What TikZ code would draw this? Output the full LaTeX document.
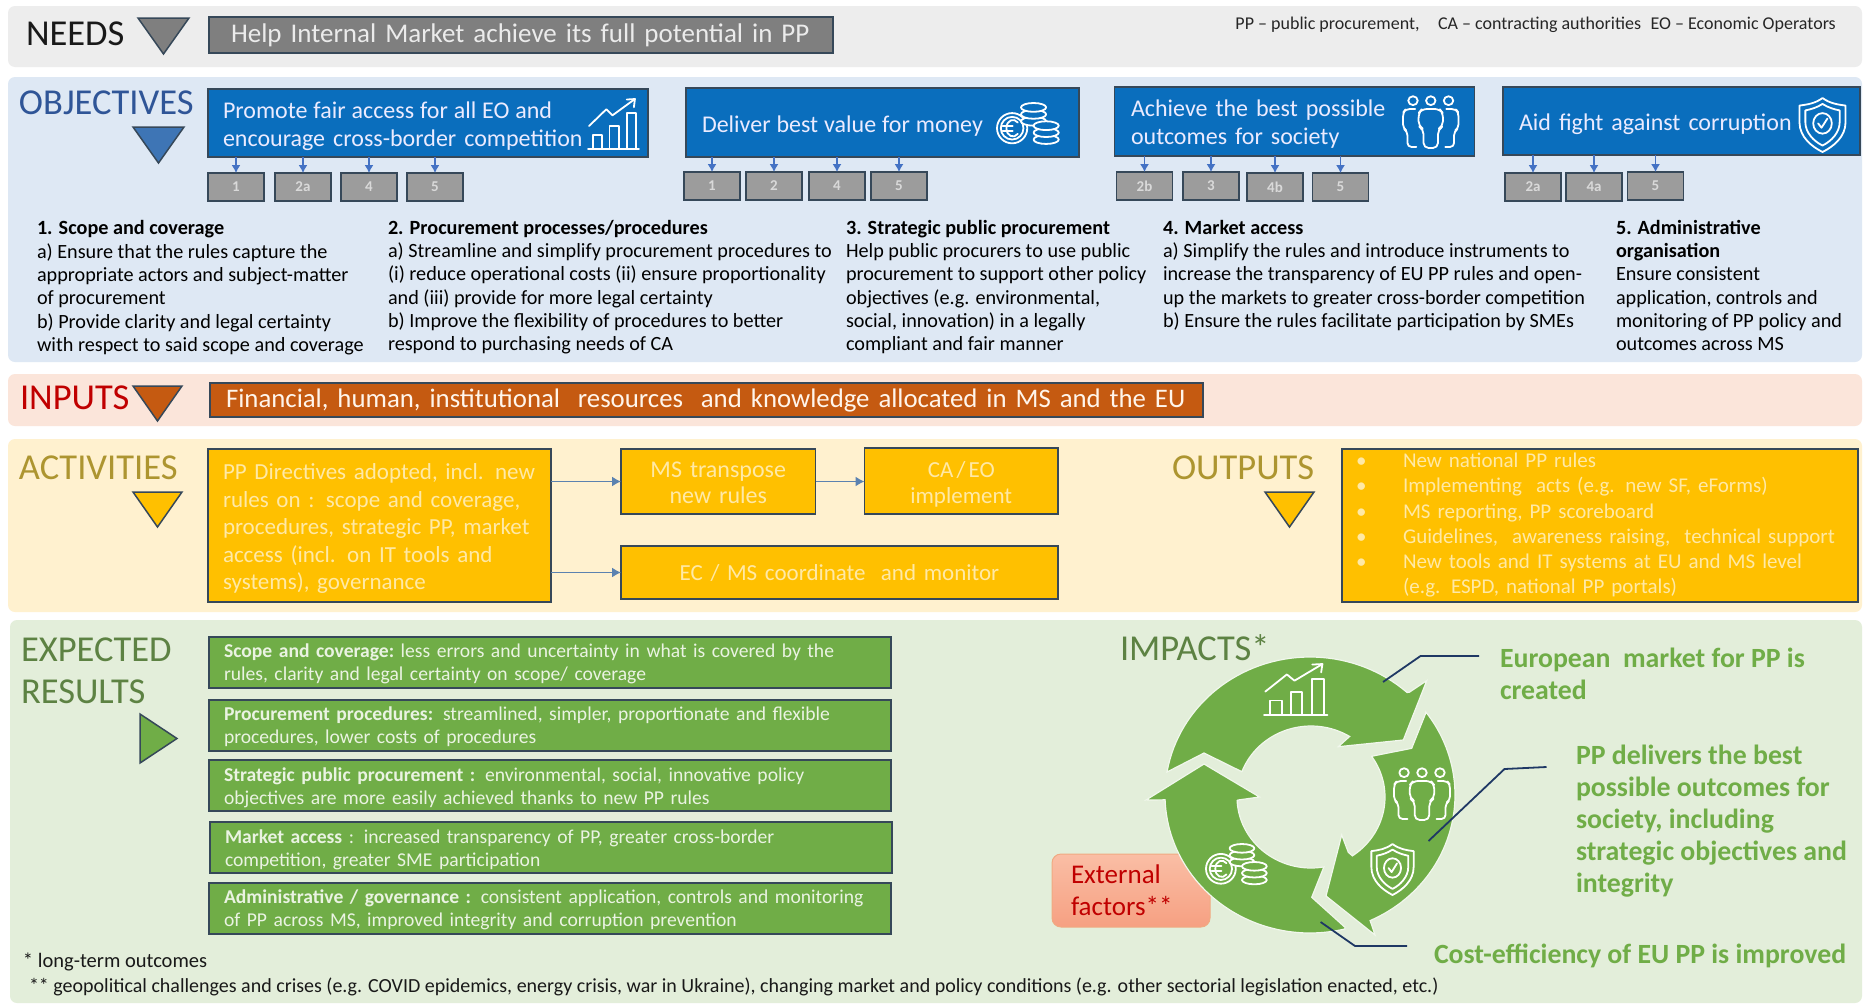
\documentclass[tikz,border=0pt]{standalone}
\usepackage{fontspec}
\setmainfont{Carlito}
\usetikzlibrary{arrows.meta}
\definecolor{bandneeds}{HTML}{EDEDED}
\definecolor{bandobj}{HTML}{DEE8F4}
\definecolor{bandinp}{HTML}{FBE5DA}
\definecolor{bandact}{HTML}{FFF1CF}
\definecolor{bandres}{HTML}{E3EEDA}
\definecolor{edge}{HTML}{364859}
\definecolor{bluefill}{HTML}{0A6EBD}
\definecolor{grayfill}{HTML}{7F7F7F}
\definecolor{smallfill}{HTML}{9C9C9C}
\definecolor{orangefill}{HTML}{C55A11}
\definecolor{yellowfill}{HTML}{FFC000}
\definecolor{greenfill}{HTML}{70AD47}
\definecolor{yellowtxt}{HTML}{FFE9A6}
\definecolor{greentxt}{HTML}{EAF3E2}
\definecolor{titleyellow}{HTML}{AD9530}
\definecolor{titlegreen}{HTML}{5D8243}
\definecolor{titleblue}{HTML}{2F5597}
\definecolor{titlered}{HTML}{C00000}
\definecolor{triblue}{HTML}{3E75B5}
\definecolor{leadercol}{HTML}{1F3864}
\definecolor{arrowblue}{HTML}{4472C4}
\definecolor{arrowslate}{HTML}{5B82B0}
\definecolor{extedge}{HTML}{F0AA82}
\definecolor{exttop}{HTML}{FABEA5}
\definecolor{extbot}{HTML}{F6A082}
\definecolor{halo}{HTML}{F1F7EC}
\newcommand{\fs}[2]{\fontsize{#1}{#2}\selectfont}
\newcommand{\tight}{\spaceskip=5.9pt\relax}
\newcommand{\toprule}[1]{\rule{0pt}{#1pt}}
\newcommand{\bul}{\makebox[47pt][l]{•}}
\tikzset{
 band/.style={fill=#1,draw=none,rounded corners=7pt},
 rawtxt/.style={inner sep=0pt,outer sep=0pt,anchor=north west,align=left},
 title/.style={inner sep=0pt,outer sep=0pt,anchor=west,font=\fs{36.5}{40},text=#1},
 tri/.style={fill=#1,draw=edge,line width=1.5pt,line join=miter},
 boxed/.style={draw=edge,line width=1.6pt,fill=#1,inner ysep=0pt,outer sep=0pt,anchor=north west},
 smallbox/.style={draw=edge,line width=1.5pt,fill=smallfill,text=white!85!black,inner sep=0pt,outer sep=0pt,minimum width=56pt,minimum height=28pt,font=\fs{15}{18}\bfseries,anchor=north west},
 bluebox/.style={boxed=bluefill,text=white!92!blue,font=\fs{24}{28},align=left},
 greenbox/.style={boxed=greenfill,text=greentxt,font=\fs{19.6}{23},align=left,minimum width=682pt,text width=652pt,inner xsep=15pt},
 yellowbox/.style={boxed=yellowfill,text=yellowtxt},
 body/.style={rawtxt,font=\fs{20.2}{23.3}},
 down/.style={-{Latex[length=8pt,width=9pt]},draw=arrowblue,line width=1.3pt},
 flow/.style={-{Latex[length=9pt,width=10pt]},draw=arrowslate,line width=1.4pt},
 icon/.style={draw=white,line width=1.8pt,line join=round,line cap=round,fill=none},
 leader/.style={draw=leadercol,line width=1.8pt},
 ring/.style={fill=greenfill,draw=halo,line width=1.2pt,line join=miter},
 impact/.style={inner sep=0pt,outer sep=0pt,anchor=north west,align=left,text=greenfill,font=\fs{27.8}{32}\bfseries}
}
\newcommand{\iconchart}[4]{%
 \begin{scope}[shift={(#1,#2)},xscale=#3,yscale=#4]
 \draw[icon] (0,100)--(100,100);
 \draw[icon] (10,100)--(10,72)--(28,72)--(28,100);
 \draw[icon] (42,100)--(42,55)--(60,55)--(60,100);
 \draw[icon] (76,100)--(76,30)--(94,30)--(94,100);
 \draw[icon] (2,55)--(36,22)--(48,34)--(92,2);
 \draw[icon] (76,3)--(92,2)--(90,18);
 \end{scope}}
\newcommand{\iconpeople}[4]{%
 \begin{scope}[shift={(#1,#2)},xscale=#3,yscale=#4]
 \draw[icon] (18,9) circle[radius=8.5];
 \draw[icon] (50,9) circle[radius=8.5];
 \draw[icon] (82,9) circle[radius=8.5];
 \draw[icon,rounded corners=5pt] (34,25)--(66,25)--(72,33)--(72,58)--(63,64)--(63,100)--(37,100)--(37,64)--(28,58)--(28,33)--cycle;
 \draw[icon,rounded corners=4pt] (22,25)--(5,25)--(0,32)--(0,62)--(8,68)--(8,98)--(24,98);
 \draw[icon,rounded corners=4pt] (78,25)--(95,25)--(100,32)--(100,62)--(92,68)--(92,98)--(76,98);
 \end{scope}}
\newcommand{\iconshield}[4]{%
 \begin{scope}[shift={(#1,#2)},xscale=#3,yscale=#4]
 \draw[icon] (50,0) .. controls (65,10) and (80,12) .. (97,14) -- (97,45) .. controls (97,72) and (72,90) .. (50,100) .. controls (28,90) and (3,72) .. (3,45) -- (3,14) .. controls (20,12) and (35,10) .. (50,0) -- cycle;
 \draw[icon] (50,11) .. controls (62,18) and (74,21) .. (85,23) -- (85,45) .. controls (85,64) and (68,80) .. (50,88) .. controls (32,80) and (15,64) .. (15,45) -- (15,23) .. controls (26,21) and (38,18) .. (50,11) -- cycle;
 \draw[icon] (50,47) circle[radius=19];
 \draw[icon] (41,47)--(48,55)--(60,38);
 \end{scope}}
\newcommand{\coinstackicon}[4]{% cx ytop n bg
 \foreach \k in {#3,...,0}{\draw[icon,fill=#4] (#1,{#2+11*\k}) ellipse[x radius=20,y radius=7];}}
\newcommand{\iconcoins}[4]{% x y s bg
 \begin{scope}[shift={(#1,#2)},scale=#3]
 \draw[icon] (24,40) circle[radius=24];
 \draw[icon] (24,40) circle[radius=18];
 \draw[icon] (33,31) .. controls (27,23) and (15,27) .. (15,40) .. controls (15,53) and (27,57) .. (33,49);
 \draw[icon] (9,36)--(25,36);
 \draw[icon] (9,44)--(25,44);
 \coinstackicon{58}{7}{2}{#4}
 \coinstackicon{78}{36}{2}{#4}
 \end{scope}}
\begin{document}
\begin{tikzpicture}[x=1pt,y=-1pt]
\useasboundingbox (0,0) rectangle (1863,1004);
\fill[white] (0,0) rectangle (1863,1004);
% bands
\fill[band=bandneeds] (8,6) rectangle (1862,67);
\fill[band=bandobj] (8,77) rectangle (1862,362);
\fill[band=bandinp] (8,374) rectangle (1862,426);
\fill[band=bandact] (8,439) rectangle (1862,612);
\fill[band=bandres] (10,620) rectangle (1862,1003);

% NEEDS
\node[title=black!90] (tneeds) at (26,34) {NEEDS};
\draw[tri=grayfill] (138,18)--(189,18)--(163.5,54)--cycle;
\node[boxed=grayfill,minimum width=624pt,minimum height=36pt,text=white!92!black,font=\fs{27}{30},inner xsep=22pt,text width=580pt,align=left] (needs) at (209,17) {\toprule{23}\strut Help Internal Market achieve its full potential in PP};
\node[inner sep=0pt,anchor=east,font=\fs{18}{20},text=black!85] (abbr) at (1836,25) {PP – public procurement,\hspace{0.8em} CA – contracting authorities\hspace{0.3em} EO – Economic Operators};

% OBJECTIVES
\node[title=titleblue] (tobjt) at (19,103) {OBJECTIVES};
\draw[tri=triblue] (133,127)--(184,127)--(158.5,163)--cycle;

\node[bluebox,minimum width=440pt,minimum height=68pt,inner xsep=15pt,text width=410pt] (o1) at (208,89) {\toprule{26.6}{\tight Promote fair access for all EO and}\\encourage cross-border competition\strut};
\iconchart{588}{98}{.51}{.51}
\node[bluebox,minimum width=393pt,minimum height=69pt,inner xsep=16pt,text width=361pt] (o2) at (686,88) {\toprule{28.6}\strut{\tight Deliver best value for money}};
\iconcoins{997}{103}{.63}{bluefill}
\node[bluebox,minimum width=360pt,minimum height=69pt,inner xsep=16.5pt,text width=327pt] (o3) at (1114.5,87) {\toprule{26.6}Achieve the best possible\\outcomes for society\strut};
\iconpeople{1403}{96}{.555}{.52}
\node[bluebox,minimum width=357pt,minimum height=68pt,inner xsep=16pt,text width=325pt] (o4) at (1503,87) {\toprule{26.6}\strut Aid fight against corruption};
\iconshield{1798}{98}{.49}{.54}

\node[smallbox] (s11) at (208,173) {1};
\node[smallbox] (s12) at (275,173) {2a};
\node[smallbox] (s13) at (341,173) {4};
\node[smallbox] (s14) at (407,173) {5};
\node[smallbox] (s21) at (684,172) {1};
\node[smallbox] (s22) at (746,172) {2};
\node[smallbox] (s23) at (809,172) {4};
\node[smallbox] (s24) at (871,172) {5};
\node[smallbox] (s31) at (1116.5,172) {2b};
\node[smallbox] (s32) at (1183,172) {3};
\node[smallbox] (s33) at (1247,173) {4b};
\node[smallbox] (s34) at (1312.5,173) {5};
\node[smallbox] (s41) at (1505,173) {2a};
\node[smallbox] (s42) at (1566,173) {4a};
\node[smallbox] (s43) at (1627.5,172) {5};
\foreach \b/\s in {o1/s11,o1/s12,o1/s13,o1/s14,o2/s21,o2/s22,o2/s23,o2/s24,o3/s31,o3/s32,o3/s33,o3/s34,o4/s41,o4/s42,o4/s43}
  \draw[down] (\b.south -| \s.north) -- (\s.north);

\node[body] (t1) at (37,218.5) {\strut\textbf{1. Scope and coverage}\\a) Ensure that the rules capture the\\appropriate actors and subject-matter\\of procurement\\b) Provide clarity and legal certainty\\with respect to said scope and coverage};
\node[body] (t2) at (388,218) {\strut\textbf{2. Procurement processes/procedures}\\a) Streamline and simplify procurement procedures to\\(i) reduce operational costs (ii) ensure proportionality\\and (iii) provide for more legal certainty\\b) Improve the flexibility of procedures to better\\respond to purchasing needs of CA};
\node[body] (t3) at (846,218) {\strut\textbf{3. Strategic public procurement}\\Help public procurers to use public\\procurement to support other policy\\objectives (e.g. environmental,\\social, innovation) in a legally\\compliant and fair manner};
\node[body] (t4) at (1163,218) {\strut\textbf{4. Market access}\\a) Simplify the rules and introduce instruments to\\increase the transparency of EU PP rules and open-\\up the markets to greater cross-border competition\\b) Ensure the rules facilitate participation by SMEs};
\node[body] (t5) at (1616,218) {\strut\textbf{5. Administrative}\\\textbf{organisation}\\Ensure consistent\\application, controls and\\monitoring of PP policy and\\outcomes across MS};

% INPUTS
\node[title=titlered] (tinp) at (20,398) {INPUTS};
\draw[tri=orangefill] (133,386)--(182,386)--(157.5,421)--cycle;
\node[boxed=orangefill,minimum width=993pt,minimum height=34pt,text=white!92!orange,font=\fs{26.8}{30},inner xsep=16pt,text width=961pt,align=left] (inp) at (210,383) {\toprule{23}\strut Financial, human, institutional\ \ resources\ \ and knowledge allocated in MS and the EU};

% ACTIVITIES
\node[title=titleyellow] (tact) at (19,468) {ACTIVITIES};
\draw[tri=yellowfill] (133,492)--(182,492)--(157.5,527)--cycle;
\node[yellowbox,minimum width=343pt,minimum height=153pt,inner xsep=15pt,text width=313pt,font=\fs{23}{27.5},align=left] (ppd) at (208,449) {\toprule{26.3}PP Directives adopted, incl. new\\rules on : scope and coverage,\\procedures, strategic PP, market\\access (incl. on IT tools and\\systems), governance\strut};
\node[yellowbox,minimum width=194.5pt,minimum height=65pt,inner xsep=4pt,text width=186pt,font=\fs{24}{26},align=center] (ms) at (621,449) {\toprule{26.2}MS transpose\\new rules\strut};
\node[yellowbox,minimum width=193.5pt,minimum height=66pt,inner xsep=4pt,text width=185pt,font=\fs{23}{26},align=center] (ca) at (864.5,448) {\toprule{26.2}{\spaceskip=3.2pt\relax CA / EO}\\implement\strut};
\node[yellowbox,minimum width=437pt,minimum height=53pt,inner xsep=4pt,text width=429pt,font=\fs{23}{26},align=center] (ec) at (621,546) {EC / MS coordinate\ \ and monitor};
\draw[flow] (ppd.east |- ms.west) -- (ms.west);
\draw[flow] (ms.east) -- (ca.west |- ms.east);
\draw[flow] (ppd.east |- ec.west) -- (ec.west);

% OUTPUTS
\node[title=titleyellow] (tout) at (1172,468) {OUTPUTS};
\draw[tri=yellowfill] (1265,492)--(1314,492)--(1289.5,527)--cycle;
\node[yellowbox,minimum width=516pt,minimum height=153pt,inner xsep=14pt,text width=488pt,font=\fs{21}{25.2},align=left] (outp) at (1342,449) {\toprule{18}\bul New national PP rules\\\bul Implementing\ \ acts (e.g. new SF, eForms)\\\bul MS reporting,\ PP scoreboard\\\bul Guidelines,\ \ awareness raising,\ \ technical support\\\bul New tools and IT systems at EU and MS level\\\makebox[47pt][l]{}(e.g. ESPD, national PP portals)\strut};

% RESULTS
\node[title=titlegreen] (tres1) at (21,650) {EXPECTED};
\node[title=titlegreen] (tres2) at (21,692) {RESULTS};
\draw[tri=greenfill] (140,714)--(177,738.5)--(140,763)--cycle;
\node[greenbox,minimum height=50pt] (g1) at (209,637) {\toprule{20.9}\textbf{Scope and coverage:}\ less errors and uncertainty in what is covered by the\\rules, clarity and legal certainty on scope/ coverage\strut};
\node[greenbox,minimum height=49pt] (g2) at (209,700) {\toprule{20.9}\textbf{Procurement procedures:} streamlined, simpler, proportionate and flexible\\procedures, lower costs of procedures\strut};
\node[greenbox,minimum height=51pt] (g3) at (209,760) {\toprule{20.9}\textbf{Strategic public procurement :} environmental, social, innovative policy\\objectives are more easily achieved thanks to new PP rules\strut};
\node[greenbox,minimum height=51pt] (g4) at (210,822) {\toprule{20.9}\textbf{Market access} : increased transparency of PP, greater cross-border\\competition, greater SME participation\strut};
\node[greenbox,minimum height=50pt] (g5) at (209,883) {\toprule{20.9}\textbf{Administrative / governance :} consistent application, controls and monitoring\\of PP across MS, improved integrity and corruption prevention\strut};

\node[rawtxt,font=\fs{20.5}{23},text=black!90] (fn1) at (23,951.5) {\strut * long-term outcomes};
\node[rawtxt,font=\fs{20}{23},text=black!90] (fn2) at (29,976.5) {\strut ** geopolitical challenges and crises (e.g. COVID epidemics, energy crisis, war in Ukraine), changing market and policy conditions (e.g. other sectorial legislation enacted, etc.)};

% IMPACTS
\node[title=titlegreen] (timp) at (1120,648) {IMPACTS*};
\node[draw=extedge,line width=1pt,rounded corners=9pt,top color=exttop,bottom color=extbot,minimum width=158pt,minimum height=73pt,anchor=north west,outer sep=0pt,inner sep=0pt] (ext) at (1052,854) {};
\node[rawtxt,font=\fs{27}{32},text=titlered] (extt) at (1071,861.5) {\strut External\\factors**};

% ring arrows
\path[ring] (1167,772) -- (1204,753) -- (1242.5,772) -- plot[domain=201:301.5,samples=40] ({1311+74*cos(\x)},{797+71*sin(\x)}) -- (1338.3,746.7) -- (1403.3,740) -- (1426.7,680.7) -- (1409.3,692.3) -- plot[domain=312:190,samples=50] ({1310+145*cos(\x)},{795+138*sin(\x)}) -- cycle;
\path[ring] (1425.7,713.3) -- plot[domain=323:425.5,samples=50] ({1310+145*cos(\x)},{795+138*sin(\x)}) -- (1375,935) -- (1326,896) -- (1341.7,835) -- (1348.3,852.3) -- plot[domain=56:-35,samples=40] ({1311+74*cos(\x)},{797+71*sin(\x)}) -- (1411.7,748.3) -- cycle;
\path[ring] (1345,927.3) -- plot[domain=76:178,samples=50] ({1310+145*cos(\x)},{795+138*sin(\x)}) -- (1146,800) -- (1204,764) -- (1259.5,797) -- (1238,800) -- plot[domain=177:80,samples=40] ({1311+74*cos(\x)},{797+71*sin(\x)}) -- (1311.7,897.3) -- cycle;
\iconchart{1264}{663}{.635}{.52}
\iconpeople{1394}{768}{.56}{.52}
\iconshield{1370}{844}{.45}{.51}
\iconcoins{1206}{844}{.62}{greenfill}

% impact labels
\node[impact] (imp1) at (1500,645.5) {\strut European\ \ market for PP is\\created};
\node[impact] (imp2) at (1576,742.5) {\strut PP delivers the best\\possible outcomes for\\society, including\\strategic objectives and\\integrity};
\node[impact] (imp3) at (1434,941.5) {\strut Cost-efficiency of EU PP is improved};
\coordinate (l1a) at (1383,682);
\coordinate (l1b) at (1420.5,656);
\coordinate (l1c) at (1479,656);
\coordinate (l2a) at (1428.5,841);
\coordinate (l2b) at (1504.5,769);
\coordinate (l2c) at (1546.5,767);
\coordinate (l3a) at (1320.6,922);
\coordinate (l3b) at (1355,946);
\coordinate (l3c) at (1407,946);
\draw[leader] (l1a) -- (l1b) -- (l1c);
\draw[leader] (l2a) -- (l2b) -- (l2c);
\draw[leader] (l3a) -- (l3b) -- (l3c);
\end{tikzpicture}
\end{document}
